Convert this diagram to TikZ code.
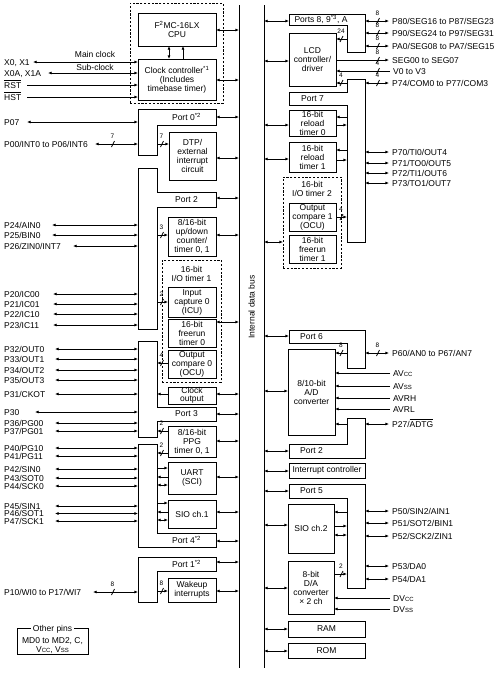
\documentclass[tikz,border=0pt]{standalone}
\usepackage{fontspec}
\setmainfont{Liberation Sans}
\usetikzlibrary{arrows.meta}
\newcommand\fs{\fontsize{8.5}{9}\selectfont}
\newcommand\nfs{\fontsize{6.5}{7}\selectfont}
\newcommand\smc[1]{{\fontsize{6}{6}\selectfont #1}}
\newcommand\ovl[1]{$\overline{\hbox{#1}}$}
\newcommand\bx[7][]{\node[box,#1,minimum width={#5-#3},minimum height={#6-#4}] (#2) at ({(#3+#5)/2},{(#4+#6)/2}) {#7};}
\newcommand\slsh[3]{\draw[conn] (#1-1.5,#2+3) -- (#1+1.5,#2-3); \node[font=\nfs,inner sep=0pt] at (#1-0.5,#2-7.5) {#3};}
\newcommand\lpin[5][<->]{\node[lbl,anchor=base west] (#2) at (4,#3+3) {#5}; \coordinate (#2s) at (#4,#3); \draw[conn,#1] (#2s) -- (#2s -| pL);}
\newcommand\rpin[4][<->]{\coordinate (#2s) at (389,#3); \node[lbl,anchor=base west] (#2) at (392,#3+3) {#4}; \draw[conn,#1] (pRo |- #2s) -- (#2s);}
\newcommand\rin[4]{\coordinate (#1s) at (390,#2); \node[lbl,anchor=base west] (#1) at (393,#2+3) {#4}; \draw[conn,->] (#1s) -- (#3.east |- #1s);}
\newcommand\il[3]{\draw[conn,#3] (pLi |- 0,#2) -- (#1.west |- 0,#2);}
\newcommand\ir[3]{\draw[conn,#3] (pRi |- 0,#2) -- (#1.east |- 0,#2);}
\newcommand\busL[2]{\draw[conn,<->] (#1.east |- 0,#2) -- (bL |- 0,#2);}
\newcommand\busR[2]{\draw[conn,<->] (bR |- 0,#2) -- (#1.west |- 0,#2);}
\begin{document}
\begin{tikzpicture}[x=1pt,y=-1pt,
  >={Latex[length=3.6pt,width=3pt]},
  conn/.style={line width=0.7pt},
  box/.style={draw,line width=0.7pt,inner sep=0pt,outer sep=0pt,align=center,font=\fs},
  lbl/.style={inner sep=0pt,font=\fs},
  dsh/.style={dash pattern=on 2.2pt off 1.6pt},
  prt/.style={line width=0.7pt}]
\useasboundingbox (0,0) rectangle (503,673);
% reference coordinates
\coordinate (bL) at (239,0); \coordinate (bR) at (264,0);
\coordinate (pL) at (138,0); \coordinate (pLi) at (157,0);
\coordinate (pRi) at (347,0); \coordinate (pRo) at (365,0);
\coordinate (bLt) at (239,5); \coordinate (bLb) at (239,668);
\coordinate (bRt) at (264,5); \coordinate (bRb) at (264,668);
\draw[line width=0.85pt] (bLt) -- (bLb);
\draw[line width=0.85pt] (bRt) -- (bRb);
\node[lbl,rotate=90] (busl) at (251.5,307) {Internal data bus};

% ---------------- left column blocks
\bx[dsh]{cpubox}{130}{3}{223}{103}{}
\bx{cpu}{138}{13}{216}{46}{F\textsuperscript{2}MC-16LX\\CPU}
\bx{clk}{138}{59}{216}{100}{Clock controller\textsuperscript{*1}\\(Includes\\timebase timer)}
\draw[conn,<->] (cpu.south -| 169,0) -- (clk.north -| 169,0);
\draw[conn,->] (clk.north -| 183,0) -- (cpu.south -| 183,0);

\bx[draw=none]{port0}{157}{109}{216}{125}{Port 0\textsuperscript{*2}}
\draw[prt] (138,109) -- (216,109) -- (216,125) -- (157,125) -- (157,155) -- (138,155) -- cycle;
\bx{dtp}{169}{132}{216}{180}{DTP/\\external\\interrupt\\circuit}

\bx[draw=none]{port2}{157}{192}{216}{207}{Port 2}
\draw[prt] (138,168) -- (157,168) -- (157,192) -- (216,192) -- (216,207) -- (157,207) -- (157,329) -- (138,329) -- cycle;
\bx{udc}{168}{217}{216}{256}{8/16-bit\\up/down\\counter/\\timer 0, 1}
\bx[dsh]{iot1}{162}{260}{221}{382}{}
\node[lbl,align=center] (iot1t) at (191.5,274) {16-bit\\I/O timer 1};
\bx{icu0}{168}{287}{216}{317}{Input\\capture 0\\(ICU)}
\bx{frt0}{168}{319}{216}{347}{16-bit\\freerun\\timer 0}
\bx{ocu0}{168}{350}{216}{378}{Output\\compare 0\\(OCU)}

\bx[draw=none]{port3}{157}{407}{216}{421}{Port 3}
\draw[prt] (138,341) -- (157,341) -- (157,407) -- (216,407) -- (216,421) -- (157,421) -- (157,437) -- (138,437) -- cycle;
\bx[font=\fontsize{8.5}{8}\selectfont]{cko}{168}{387}{216}{404}{Clock\\output}
\bx{ppg}{168}{426}{216}{457}{8/16-bit\\PPG\\timer 0, 1}

\bx[draw=none]{port4}{157}{533}{216}{547}{Port 4\textsuperscript{*2}}
\draw[prt] (138,444) -- (157,444) -- (157,533) -- (216,533) -- (216,547) -- (138,547) -- cycle;
\bx{uart}{168}{462}{216}{494}{UART\\(SCI)}
\bx{sio1}{168}{500}{216}{528}{SIO ch.1}

\bx[draw=none]{port1}{157}{557}{216}{571}{Port 1\textsuperscript{*2}}
\draw[prt] (138,557) -- (216,557) -- (216,571) -- (157,571) -- (157,602) -- (138,602) -- cycle;
\bx{wku}{168}{578}{216}{602}{Wakeup\\interrupts}

\bx{oth}{17}{628}{88}{654}{}
\node[lbl,fill=white,inner xsep=1.5pt] (otht) at (52.5,629) {Other pins};
\node[lbl,align=center] (othb) at (52.5,645.5) {MD0 to MD2, C,\\V\smc{CC}, V\smc{SS}};

% left bus connections
\busL{cpu}{30} \busL{clk}{80} \busL{port0}{117} \busL{dtp}{158}
\busL{port2}{198} \busL{udc}{235} \busL{frt0}{322} \busL{cko}{394}
\busL{port3}{414} \busL{ppg}{441} \busL{uart}{477} \busL{sio1}{512}
\busL{port4}{541} \busL{port1}{562} \busL{wku}{591}

% left internal connections
\il{dtp}{144}{->} \slsh{162}{144}{7}
\il{udc}{235}{->} \slsh{162}{235}{3}
\il{icu0}{302}{->} \slsh{162}{302}{2}
\il{ocu0}{363}{<-} \slsh{162}{363}{4}
\il{cko}{394}{<-}
\il{ppg}{431}{<-} \slsh{162}{431}{2}
\il{ppg}{453}{<-} \slsh{162}{453}{2}
\il{uart}{468}{->} \il{uart}{477}{<-} \il{uart}{485}{<->}
\il{sio1}{503}{->} \il{sio1}{512}{<-} \il{sio1}{520}{<->}
\il{wku}{591}{->} \slsh{162}{591}{8}

% left pins
\lpin{x0}{62}{33}{X0, X1}
\lpin{x0a}{73}{48}{X0A, X1A}
\lpin[->]{rst}{85}{27}{\ovl{RST}}
\lpin[->]{hst}{97}{27}{\ovl{HST}}
\node[lbl,anchor=base] (mclk) at (95,57) {Main clock};
\node[lbl,anchor=base] (sclk) at (95,70.5) {Sub-clock};
\lpin{p07}{122}{27}{P07}
\lpin{p00}{144}{95}{P00/INT0 to P06/INT6} \slsh{113}{144}{7}
\lpin{p24}{225}{52}{P24/AIN0}
\lpin{p25}{235}{52}{P25/BIN0}
\lpin{p26}{246}{73}{P26/ZIN0/INT7}
\lpin{p20}{294}{53}{P20/IC00}
\lpin{p21}{304}{53}{P21/IC01}
\lpin{p22}{314}{53}{P22/IC10}
\lpin{p23}{325}{53}{P23/IC11}
\lpin{p32}{349}{55}{P32/OUT0}
\lpin{p33}{359}{55}{P33/OUT1}
\lpin{p34}{370}{55}{P34/OUT2}
\lpin{p35}{380}{55}{P35/OUT3}
\lpin{p31}{394}{55}{P31/CKOT}
\lpin{p30}{412}{35}{P30}
\lpin{p36}{423}{55}{P36/PG00}
\lpin{p37}{431}{55}{P37/PG01}
\lpin{p40}{448}{55}{P40/PG10}
\lpin{p41}{456}{55}{P41/PG11}
\lpin{p42}{469}{55}{P42/SIN0}
\lpin{p43}{478}{55}{P43/SOT0}
\lpin{p44}{486}{55}{P44/SCK0}
\lpin{p45}{506}{55}{P45/SIN1}
\lpin{p46}{513.5}{55}{P46/SOT1}
\lpin{p47}{521}{55}{P47/SCK1}
\lpin{p10}{592}{93}{P10/WI0 to P17/WI7} \slsh{113}{592}{8}

% ---------------- right column blocks
\bx[draw=none]{port89}{289}{14}{353}{25}{Ports 8, 9\textsuperscript{*3}, A}
\draw[prt] (289,14) -- (365,14) -- (365,52) -- (347,52) -- (347,25) -- (289,25) -- cycle;
\bx{lcd}{289}{33}{336}{86}{LCD\\controller/\\driver}
\bx[draw=none]{port7}{289}{92}{336}{105}{Port 7}
\draw[prt] (347,79) -- (365,79) -- (365,242) -- (347,242) -- (347,105) -- (289,105) -- (289,92) -- (347,92) -- cycle;
\bx{rl0}{289}{110}{336}{136}{16-bit\\reload\\timer 0}
\bx{rl1}{289}{142}{336}{172}{16-bit\\reload\\timer 1}
\bx[dsh]{iot2}{283}{177}{341}{268}{}
\node[lbl,align=center] (iot2t) at (312,189) {16-bit\\I/O timer 2};
\bx{ocu1}{289}{203}{336}{231}{Output\\compare 1\\(OCU)}
\bx{frt1}{289}{235}{336}{263}{16-bit\\freerun\\timer 1}

\bx[draw=none]{port6}{289}{330}{334}{343}{Port 6}
\draw[prt] (289,330) -- (365,330) -- (365,368) -- (347,368) -- (347,343) -- (289,343) -- cycle;
\bx{adc}{288}{349}{335}{435}{8/10-bit\\A/D\\converter}
\bx[draw=none]{port2r}{289}{444}{334}{458}{Port 2}
\draw[prt] (347,418) -- (365,418) -- (365,458) -- (289,458) -- (289,444) -- (347,444) -- cycle;
\bx{intc}{289}{463}{365}{478}{Interrupt controller}
\bx[draw=none]{port5}{289}{484}{334}{498}{Port 5}
\draw[prt] (289,484) -- (365,484) -- (365,588) -- (347,588) -- (347,498) -- (289,498) -- cycle;
\bx{sio2}{288}{504}{334}{553}{SIO ch.2}
\bx{dac}{288}{561}{334}{614}{8-bit\\D/A\\converter\\\texttimes\ 2 ch}
\bx{ram}{288}{621}{365}{637}{RAM}
\bx{rom}{288}{643}{365}{658}{ROM}

% right bus connections
\busR{port89}{21} \busR{lcd}{61} \busR{rl0}{125} \busR{rl1}{159}
\busR{iot2}{242} \busR{port6}{336} \busR{adc}{391} \busR{port2r}{451}
\busR{intc}{471} \busR{port5}{491} \busR{sio2}{525} \busR{dac}{588}
\busR{ram}{629} \busR{rom}{651}

% right internal connections
\ir{lcd}{39}{->} \slsh{341.5}{39}{24}
\ir{lcd}{83}{->} \slsh{341.5}{83}{4}
\ir{rl0}{117}{->} \ir{rl0}{125}{<-}
\ir{rl1}{150}{->} \ir{rl1}{160}{<-}
\ir{ocu1}{217}{<-} \slsh{341.5}{217}{4}
\ir{adc}{353}{->} \slsh{341.5}{353}{8}
\ir{adc}{424}{->}
\ir{sio2}{512}{->} \ir{sio2}{526}{<-} \ir{sio2}{535}{<->}
\ir{dac}{574}{<-} \slsh{341.5}{574}{2}

% right pins
\rpin{p80}{21}{P80/SEG16 to P87/SEG23} \slsh{378}{21}{8}
\rpin{p90}{33}{P90/SEG24 to P97/SEG31} \slsh{378}{33}{8}
\rpin{pa0}{46}{PA0/SEG08 to PA7/SEG15} \slsh{378}{46}{8}
\coordinate (segs) at (389,60);
\node[lbl,anchor=base west] (seg) at (392,63) {SEG00 to SEG07};
\draw[conn,->] (lcd.east |- segs) -- (segs); \slsh{378}{60}{8}
\rin{vv}{71}{lcd}{V0 to V3} \slsh{378}{71}{4}
\rpin{p74}{83}{P74/COM0 to P77/COM3} \slsh{378}{83}{4}
\rpin{p70}{152}{P70/TI0/OUT4}
\rpin{p71}{163}{P71/TO0/OUT5}
\rpin{p72}{173}{P72/TI1/OUT6}
\rpin{p73}{183}{P73/TO1/OUT7}
\rpin{p60}{353}{P60/AN0 to P67/AN7} \slsh{378}{353}{8}
\rin{avcc}{373}{adc}{AV\smc{CC}}
\rin{avss}{386}{adc}{AV\smc{SS}}
\rin{avrh}{398}{adc}{AVRH}
\rin{avrl}{409}{adc}{AVRL}
\rpin{p27}{424}{P27/\ovl{ADTG}}
\rpin{p50}{511}{P50/SIN2/AIN1}
\rpin{p51}{523}{P51/SOT2/BIN1}
\rpin{p52}{536}{P52/SCK2/ZIN1}
\rpin{p53}{566}{P53/DA0}
\rpin{p54}{579}{P54/DA1}
\rin{dvcc}{598}{dac}{DV\smc{CC}}
\rin{dvss}{609}{dac}{DV\smc{SS}}
\end{tikzpicture}
\end{document}
